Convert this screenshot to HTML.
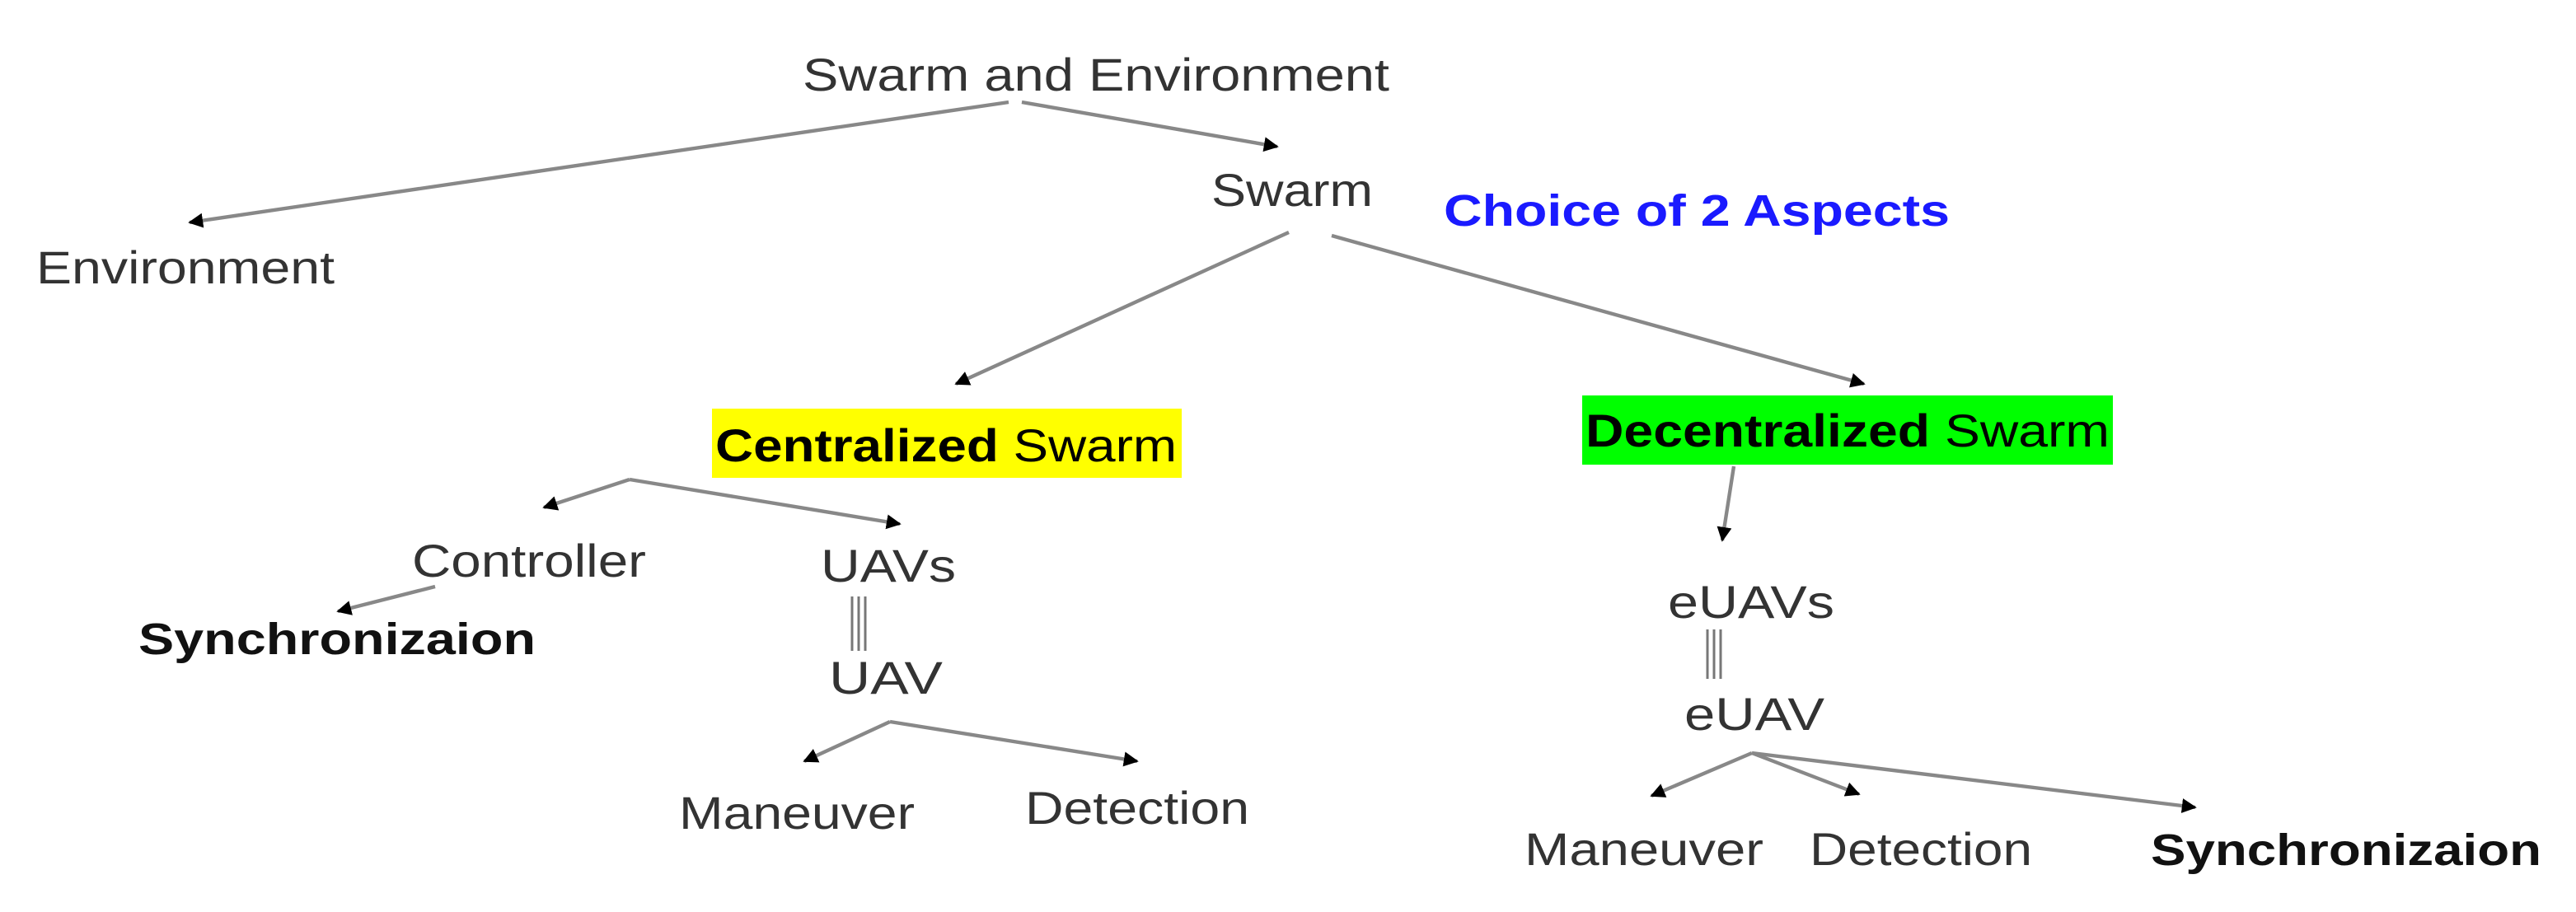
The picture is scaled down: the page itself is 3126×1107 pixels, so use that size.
<!DOCTYPE html>
<html><head><meta charset="utf-8"><style>
html,body{margin:0;padding:0;background:#fff;}
svg{display:block;}
text{font-family:"Liberation Sans",Arial,sans-serif;fill:#333;}
</style></head><body>
<svg width="3126" height="1107" viewBox="0 0 1563 553.5" xmlns="http://www.w3.org/2000/svg">
<defs>
<marker id="a" viewBox="0 0 10 10" refX="9" refY="5" markerWidth="5" markerHeight="5" orient="auto" markerUnits="userSpaceOnUse">
<path d="M0,0 L10,5 L0,10 z" fill="#000"/></marker>
<marker id="b" viewBox="0 0 10 10" refX="9" refY="5" markerWidth="9" markerHeight="9" orient="auto" markerUnits="userSpaceOnUse">
<path d="M0,0 L10,5 L0,10 z" fill="#000"/></marker>
</defs>
<g stroke="#888" stroke-width="2.2" fill="none" marker-end="url(#b)">
<line x1="612" y1="62" x2="115" y2="135"/>
<line x1="620" y1="62" x2="775" y2="89"/>
<line x1="782" y1="141" x2="580" y2="233"/>
<line x1="808" y1="143" x2="1131" y2="233"/>
<polyline points="382,291 330,308"/>
<polyline points="382,291 546,318"/>
<polyline points="264,356 205,371"/>
<line x1="1052" y1="283" x2="1045" y2="328"/>
<polyline points="540,438 488,462"/>
<polyline points="540,438 690,462"/>
<polyline points="1063,457 1002,483"/>
<polyline points="1063,457 1128,482"/>
<polyline points="1063,457 1332,490"/>
</g>
<g stroke="#777" stroke-width="1.5">
<line x1="517" y1="362" x2="517" y2="395"/><line x1="521" y1="362" x2="521" y2="395"/><line x1="525" y1="362" x2="525" y2="395"/>
<line x1="1036" y1="382" x2="1036" y2="412"/><line x1="1040" y1="382" x2="1040" y2="412"/><line x1="1044" y1="382" x2="1044" y2="412"/>
</g>
<rect x="432" y="248" width="285" height="42" fill="#ffff00"/>
<rect x="960" y="240" width="322" height="42" fill="#00ff00"/>
<text x="487" y="55" font-size="28" textLength="356" lengthAdjust="spacingAndGlyphs">Swarm and Environment</text>
<text x="22" y="172" font-size="28" textLength="181" lengthAdjust="spacingAndGlyphs">Environment</text>
<text x="735" y="125" font-size="28" textLength="98" lengthAdjust="spacingAndGlyphs">Swarm</text>
<text x="876" y="137" font-size="27" font-weight="bold" style="fill:#1a1aff" textLength="307" lengthAdjust="spacingAndGlyphs">Choice of 2 Aspects</text>
<text x="434" y="280" font-size="28" style="fill:#000" textLength="280" lengthAdjust="spacingAndGlyphs"><tspan font-weight="bold">Centralized</tspan> Swarm</text>
<text x="962" y="271" font-size="28" style="fill:#000" textLength="318" lengthAdjust="spacingAndGlyphs"><tspan font-weight="bold">Decentralized</tspan> Swarm</text>
<text x="250" y="350" font-size="28" textLength="142" lengthAdjust="spacingAndGlyphs">Controller</text>
<text x="84" y="397" font-size="27" font-weight="bold" style="fill:#111" textLength="241" lengthAdjust="spacingAndGlyphs">Synchronizaion</text>
<text x="498" y="353" font-size="28" textLength="82" lengthAdjust="spacingAndGlyphs">UAVs</text>
<text x="503" y="421" font-size="28" textLength="69" lengthAdjust="spacingAndGlyphs">UAV</text>
<text x="412" y="503" font-size="28" textLength="143" lengthAdjust="spacingAndGlyphs">Maneuver</text>
<text x="622" y="500" font-size="28" textLength="136" lengthAdjust="spacingAndGlyphs">Detection</text>
<text x="1012" y="375" font-size="28" textLength="101" lengthAdjust="spacingAndGlyphs">eUAVs</text>
<text x="1022" y="443" font-size="28" textLength="85" lengthAdjust="spacingAndGlyphs">eUAV</text>
<text x="925" y="525" font-size="28" textLength="145" lengthAdjust="spacingAndGlyphs">Maneuver</text>
<text x="1098" y="525" font-size="28" textLength="135" lengthAdjust="spacingAndGlyphs">Detection</text>
<text x="1305" y="525" font-size="27" font-weight="bold" style="fill:#111" textLength="237" lengthAdjust="spacingAndGlyphs">Synchronizaion</text>
</svg>
</body></html>
